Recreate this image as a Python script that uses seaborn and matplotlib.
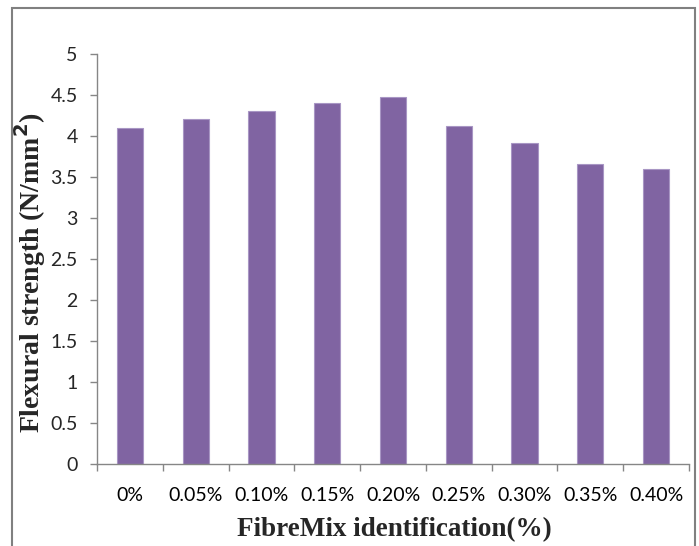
import matplotlib
matplotlib.use('Agg')
import matplotlib.pyplot as plt
from matplotlib.patches import Rectangle
import seaborn as sns
import pandas as pd
import numpy as np

# values
mixes = ['0%', '0.05%', '0.10%', '0.15%', '0.20%', '0.25%', '0.30%', '0.35%', '0.40%']
strength = [4.10, 4.20, 4.30, 4.40, 4.47, 4.12, 3.91, 3.66, 3.59]
y_ticks = [0, 0.5, 1, 1.5, 2, 2.5, 3, 3.5, 4, 4.5, 5]
y_labels = ['0', '0.5', '1', '1.5', '2', '2.5', '3', '3.5', '4', '4.5', '5']

df = pd.DataFrame({'mix': mixes, 'strength': strength})

sns.set_style('white')
plt.rcParams['font.family'] = ['Lato', 'DejaVu Sans']

fig = plt.figure(figsize=(6.99, 5.46), dpi=100)
ax = fig.add_axes([0.1388, 0.1507, 0.9857 - 0.1388, 0.9016 - 0.1507])

sns.barplot(data=df, x='mix', y='strength', color='#8064A2', saturation=1,
            width=0.4, edgecolor='#A896C4', linewidth=0.8, ax=ax)

ax.set_xlim(-0.5, len(mixes) - 0.5)
ax.set_ylim(0, 5)
ax.set_yticks(y_ticks)
ax.set_yticklabels(y_labels)

ax.set_xticks(np.arange(len(mixes)))
ax.set_xticklabels(mixes)
ax.set_xticks(np.arange(len(mixes) + 1) - 0.5, minor=True)
ax.tick_params(axis='x', which='major', length=0, pad=17, labelsize=14, colors='black')
ax.tick_params(axis='x', which='minor', length=5, width=1, color='#868686', direction='out')
ax.tick_params(axis='y', length=5, width=1, color='#868686', direction='out', pad=9, labelsize=14)
ax.xaxis.set_ticks_position('bottom')
ax.yaxis.set_ticks_position('left')

sns.despine(ax=ax)
for side in ['left', 'bottom']:
    ax.spines[side].set_color('#868686')
    ax.spines[side].set_linewidth(1)

ax.set_xlabel('FibreMix identification(%)', family='Liberation Serif', fontweight='bold', fontsize=19.5)
ax.set_ylabel('Flexural strength (N/mm$^\\mathbf{2}$)', family='Liberation Serif', fontweight='bold', fontsize=20)
ax.xaxis.set_label_coords((394 - 97) / 592, -(517 - 463.7) / 410)
ax.yaxis.set_label_coords(-(97 - 48) / 592, (463.7 - 273) / 410)

# outer frame like the original document border
fig.patches.append(Rectangle((12 / 699, -0.02), (695 - 12) / 699, 1.02 - 8 / 546,
                             transform=fig.transFigure, fill=False,
                             edgecolor='#808080', linewidth=1.5))

fig.savefig('out.png', dpi=100)
